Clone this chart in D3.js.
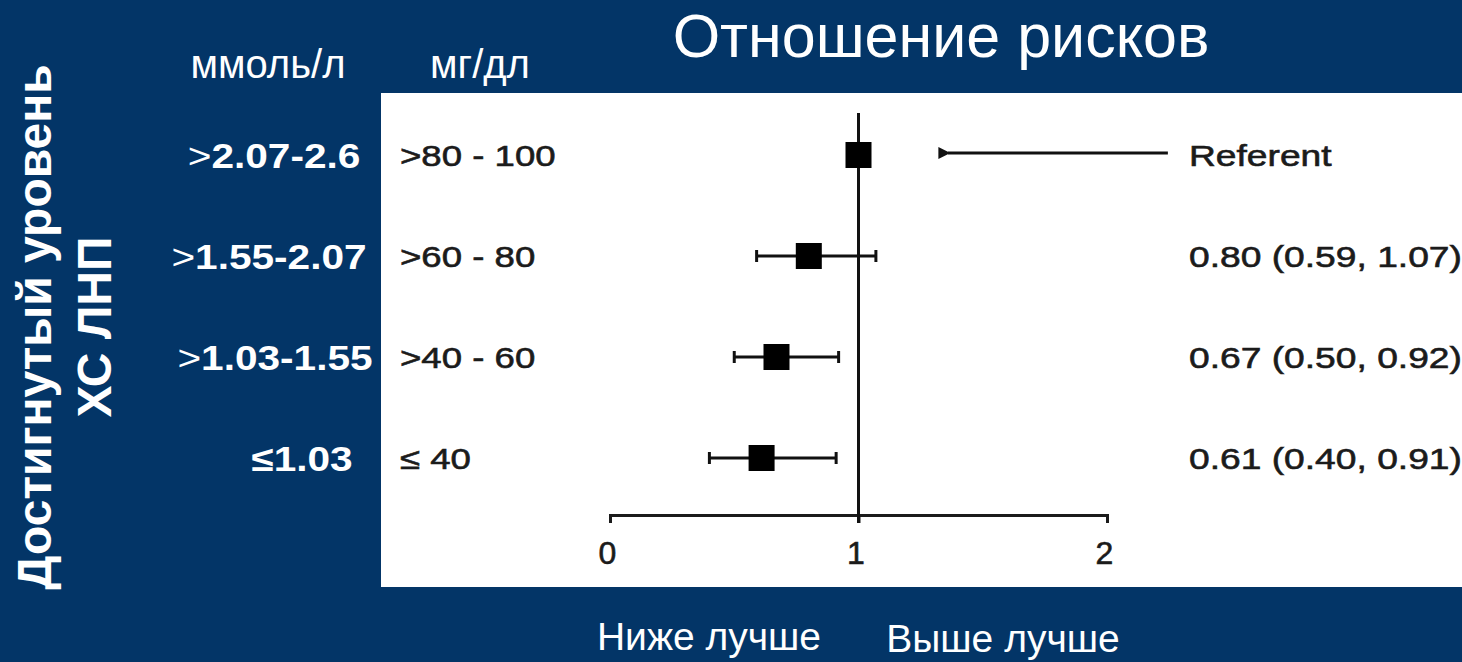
<!DOCTYPE html>
<html>
<head>
<meta charset="utf-8">
<script src="https://cdn.jsdelivr.net/npm/d3@7"></script>
<style>
  html, body { margin: 0; padding: 0; background: #033567; }
  svg { display: block; }
  text { font-family: "Liberation Sans", Arial, Helvetica, sans-serif; }
</style>
</head>
<body>
<svg id="chart" width="1462" height="662"></svg>
<script>
// Achieved LDL-C level groups (rows, top to bottom)
const mmolLabels = [">2.07-2.6", ">1.55-2.07", ">1.03-1.55", "≤1.03"];
const mgdlLabels = [">80 - 100", ">60 - 80", ">40 - 60", "≤ 40"];
// Hazard ratios with 95% confidence limits (first row is the referent group)
const hazardRatio = [1.00, 0.80, 0.67, 0.61];
const ciLower = [null, 0.59, 0.50, 0.40];
const ciUpper = [null, 1.07, 0.92, 0.91];
const valueLabels = ["Referent", "0.80 (0.59, 1.07)", "0.67 (0.50, 0.92)", "0.61 (0.40, 0.91)"];
const xTicks = [0, 1, 2];
// Referent arrow, in hazard-ratio units
const arrowFrom = 2.245, arrowTo = 1.36;
const labelColumnAt = 2.33;

const W = 1462, H = 662;
const bg = "#033567";
const ink = "#1b1b1b";
const svg = d3.select("#chart");

svg.append("rect").attr("width", W).attr("height", H).attr("fill", bg);

// White plot panel
const panel = { x: 381, y: 93, w: W - 381, h: 494 };
svg.append("rect")
  .attr("x", panel.x).attr("y", panel.y)
  .attr("width", panel.w).attr("height", panel.h)
  .attr("fill", "#ffffff");

const x = d3.scaleLinear().domain([0, 2]).range([610, 1107]);
const y = d3.scalePoint().domain(d3.range(hazardRatio.length)).range([155, 458]);
const axisY = 515;

// Title
svg.append("text")
  .attr("x", 941).attr("y", 57)
  .attr("text-anchor", "middle")
  .attr("fill", "#fff")
  .attr("font-size", 61)
  .text("Отношение рисков");

// Column headers
svg.append("text").attr("x", 268).attr("y", 78).attr("text-anchor", "middle")
  .attr("fill", "#fff").attr("font-size", 40).text("ммоль/л");
svg.append("text").attr("x", 480).attr("y", 78).attr("text-anchor", "middle")
  .attr("fill", "#fff").attr("font-size", 40).text("мг/дл");

// Rotated row-group title
const rot = svg.append("g").attr("transform", "translate(51,327) rotate(-90)");
rot.append("text").attr("text-anchor", "middle").attr("fill", "#fff")
  .attr("font-size", 48).attr("font-weight", "bold").text("Достигнутый уровень");
rot.append("text").attr("text-anchor", "middle").attr("y", 60).attr("fill", "#fff")
  .attr("font-size", 48).attr("font-weight", "bold").text("ХС ЛНП");

// mmol/L labels (white, bold; comparison sign in regular weight)
const mmolX = [274, 269, 275, 302];
mmolLabels.forEach((lab, i) => {
  const t = svg.append("text")
    .attr("transform", `translate(${mmolX[i]},${y(i) + 13}) scale(1.16,1)`)
    .attr("text-anchor", "middle")
    .attr("fill", "#fff").attr("font-size", 35).attr("font-weight", "bold");
  if (lab[0] === ">") {
    t.append("tspan").attr("font-weight", "normal").text(">");
    t.append("tspan").text(lab.slice(1));
  } else {
    t.text(lab);
  }
});

// Plot contents inside the white panel
const plot = svg.append("g").attr("class", "plot");

// mg/dL labels
plot.selectAll("text.mgdl").data(mgdlLabels).join("text")
  .attr("class", "mgdl")
  .attr("transform", (d, i) => `translate(400,${y(i) + 11}) scale(1.22,1)`)
  .attr("fill", ink).attr("font-size", 30)
  .attr("stroke", ink).attr("stroke-width", 0.6)
  .text(d => d);

// Axis
const axis = d3.axisBottom(x).tickValues(xTicks).tickSize(8).tickPadding(18)
  .tickFormat(d3.format("d"));
const gAxis = plot.append("g").attr("transform", `translate(0,${axisY})`).call(axis);
gAxis.select(".domain").attr("stroke", ink).attr("stroke-width", 3);
gAxis.selectAll(".tick line").attr("stroke", ink).attr("stroke-width", 3);
gAxis.selectAll(".tick text")
  .attr("fill", ink).attr("font-size", 32)
  .attr("font-family", "\"Liberation Sans\", Arial, sans-serif")
  .attr("stroke", ink).attr("stroke-width", 0.6)
  .attr("dx", -3);

// Line of no effect at HR = 1
plot.append("line")
  .attr("x1", x(1)).attr("x2", x(1))
  .attr("y1", 113).attr("y2", axisY + 8)
  .attr("stroke", "#111").attr("stroke-width", 3);

// Confidence intervals
const ciRows = d3.range(hazardRatio.length).filter(i => ciLower[i] !== null);
plot.selectAll("line.ci").data(ciRows).join("line")
  .attr("class", "ci")
  .attr("x1", i => x(ciLower[i])).attr("x2", i => x(ciUpper[i]))
  .attr("y1", i => y(i)).attr("y2", i => y(i))
  .attr("stroke", "#111").attr("stroke-width", 3);
["lo", "hi"].forEach(end => {
  plot.selectAll(`line.cap-${end}`).data(ciRows).join("line")
    .attr("class", `cap-${end}`)
    .attr("x1", i => x(end === "lo" ? ciLower[i] : ciUpper[i]))
    .attr("x2", i => x(end === "lo" ? ciLower[i] : ciUpper[i]))
    .attr("y1", i => y(i) - 6).attr("y2", i => y(i) + 6)
    .attr("stroke", "#111").attr("stroke-width", 3);
});

// Point estimates
const sq = 26;
plot.selectAll("rect.pt").data(hazardRatio).join("rect")
  .attr("class", "pt")
  .attr("x", d => x(d) - sq / 2)
  .attr("y", (d, i) => y(i) - sq / 2)
  .attr("width", sq).attr("height", sq)
  .attr("fill", "#000");

// Referent arrow
const defs = svg.append("defs");
defs.append("marker").attr("id", "arrowhead")
  .attr("viewBox", "0 0 10 10").attr("refX", 2).attr("refY", 5)
  .attr("markerWidth", 4.5).attr("markerHeight", 4)
  .attr("orient", "auto-start-reverse")
  .append("path").attr("d", "M0,5 L10,0 L10,10 Z").attr("fill", "#111");
plot.append("line")
  .attr("x1", x(arrowFrom)).attr("x2", x(arrowTo))
  .attr("y1", y(0) - 2).attr("y2", y(0) - 2)
  .attr("stroke", "#111").attr("stroke-width", 3)
  .attr("marker-end", "url(#arrowhead)");

// Estimate labels
plot.selectAll("text.val").data(valueLabels).join("text")
  .attr("class", "val")
  .attr("transform", (d, i) => `translate(${x(labelColumnAt)},${y(i) + 11}) scale(1.24,1)`)
  .attr("fill", ink).attr("font-size", 30)
  .attr("stroke", ink).attr("stroke-width", 0.6)
  .text(d => d);

// Interpretation labels under the axis
svg.append("text").attr("x", 709).attr("y", 650).attr("text-anchor", "middle")
  .attr("fill", "#fff").attr("font-size", 39).text("Ниже лучше");
svg.append("text").attr("x", 1003).attr("y", 652).attr("text-anchor", "middle")
  .attr("fill", "#fff").attr("font-size", 39).text("Выше лучше");
</script>
</body>
</html>
